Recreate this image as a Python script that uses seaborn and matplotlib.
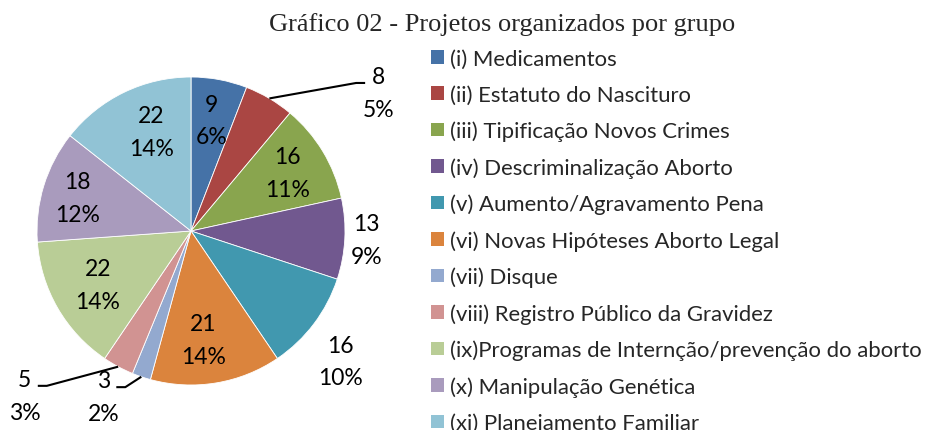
import numpy as np
import seaborn as sns
import matplotlib.pyplot as plt
import matplotlib.patches as mpatches

# Data
groups = [
    '(i) Medicamentos',
    '(ii) Estatuto do Nascituro',
    '(iii) Tipificação Novos Crimes',
    '(iv) Descriminalização Aborto',
    '(v) Aumento/Agravamento Pena',
    '(vi) Novas Hipóteses Aborto Legal',
    '(vii) Disque',
    '(viii) Registro Público da Gravidez',
    '(ix)Programas de Internção/prevenção do aborto',
    '(x) Manipulação Genética',
    '(xi) Planejamento Familiar',
]
counts = [9, 8, 16, 13, 16, 21, 3, 5, 22, 18, 22]
pct_labels = ['6%', '5%', '11%', '9%', '10%', '14%', '2%', '3%', '14%', '12%', '14%']

colors = ['#4572A7', '#AA4643', '#89A54E', '#71588F', '#4198AF', '#DB843D',
          '#93A9CF', '#D19392', '#B9CD96', '#A99BBD', '#91C3D5']

# label placement: (distance from centre in radii, clockwise shift from wedge middle in deg)
label_place = [(0.73, 0), (1.51, 23), (0.73, 0), (1.14, 0), (1.29, 4), (0.71, 3),
               (1.22, 9), (1.52, 17), (0.70, 0), (0.77, -1), (0.69, 4)]
leader = [False, True, False, False, False, False, True, True, False, False, False]

sns.set_theme(style='white')
plt.rcParams['font.family'] = ['Lato', 'DejaVu Sans']

LBF = 16.5   # data label font
LGF = 15.9   # legend font
TF = 19      # title font

W, H = 928, 431
fig = plt.figure(figsize=(W / 100, H / 100), dpi=100)
R = 154  # pie radius in px
cx, cy = 191, 232
ax = fig.add_axes([(cx - R) / W, (H - cy - R) / H, 2 * R / W, 2 * R / H])

wedges, _ = ax.pie(counts, colors=sns.color_palette(colors), startangle=90,
                   counterclock=False,
                   wedgeprops=dict(edgecolor='white', linewidth=0.6))
ax.set_xlim(-1, 1)
ax.set_ylim(-1, 1)
ax.set_aspect('equal')
ax.axis('off')

u = 1 / R  # one pixel in data units
for i, w in enumerate(wedges):
    mid = np.deg2rad((w.theta1 + w.theta2) / 2)
    r, shift = label_place[i]
    phi = mid - np.deg2rad(shift)
    tx, ty = r * np.cos(phi), r * np.sin(phi)
    ax.text(tx, ty, f'{counts[i]}\n{pct_labels[i]}', ha='center', va='center',
            fontsize=LBF, linespacing=1.7, color='black', clip_on=False)
    if leader[i]:
        sx, sy = np.cos(mid), np.sin(mid)
        side = 1 if tx > sx else -1
        ly = ty + 10 * u
        ex = tx - side * 13 * u
        bx = tx - side * 22 * u
        ax.plot([sx, bx, ex], [sy, ly, ly], color='black', lw=1.5,
                clip_on=False, solid_capstyle='butt')

fig.text(502 / W, 1 - 25 / H, 'Gráfico 02 - Projetos organizados por grupo',
         ha='center', va='center', fontsize=TF, family='Liberation Serif')

handles = [mpatches.Patch(facecolor=c, edgecolor='none') for c in colors]
fig.legend(handles, groups, loc='upper left', bbox_to_anchor=(431 / W, 1 - 50 / H),
           frameon=False, fontsize=LGF, handlelength=0.58, handleheight=0.58,
           handletextpad=0.3, labelspacing=0.72, borderaxespad=0, borderpad=0)

fig.savefig('out.png', dpi=100)
